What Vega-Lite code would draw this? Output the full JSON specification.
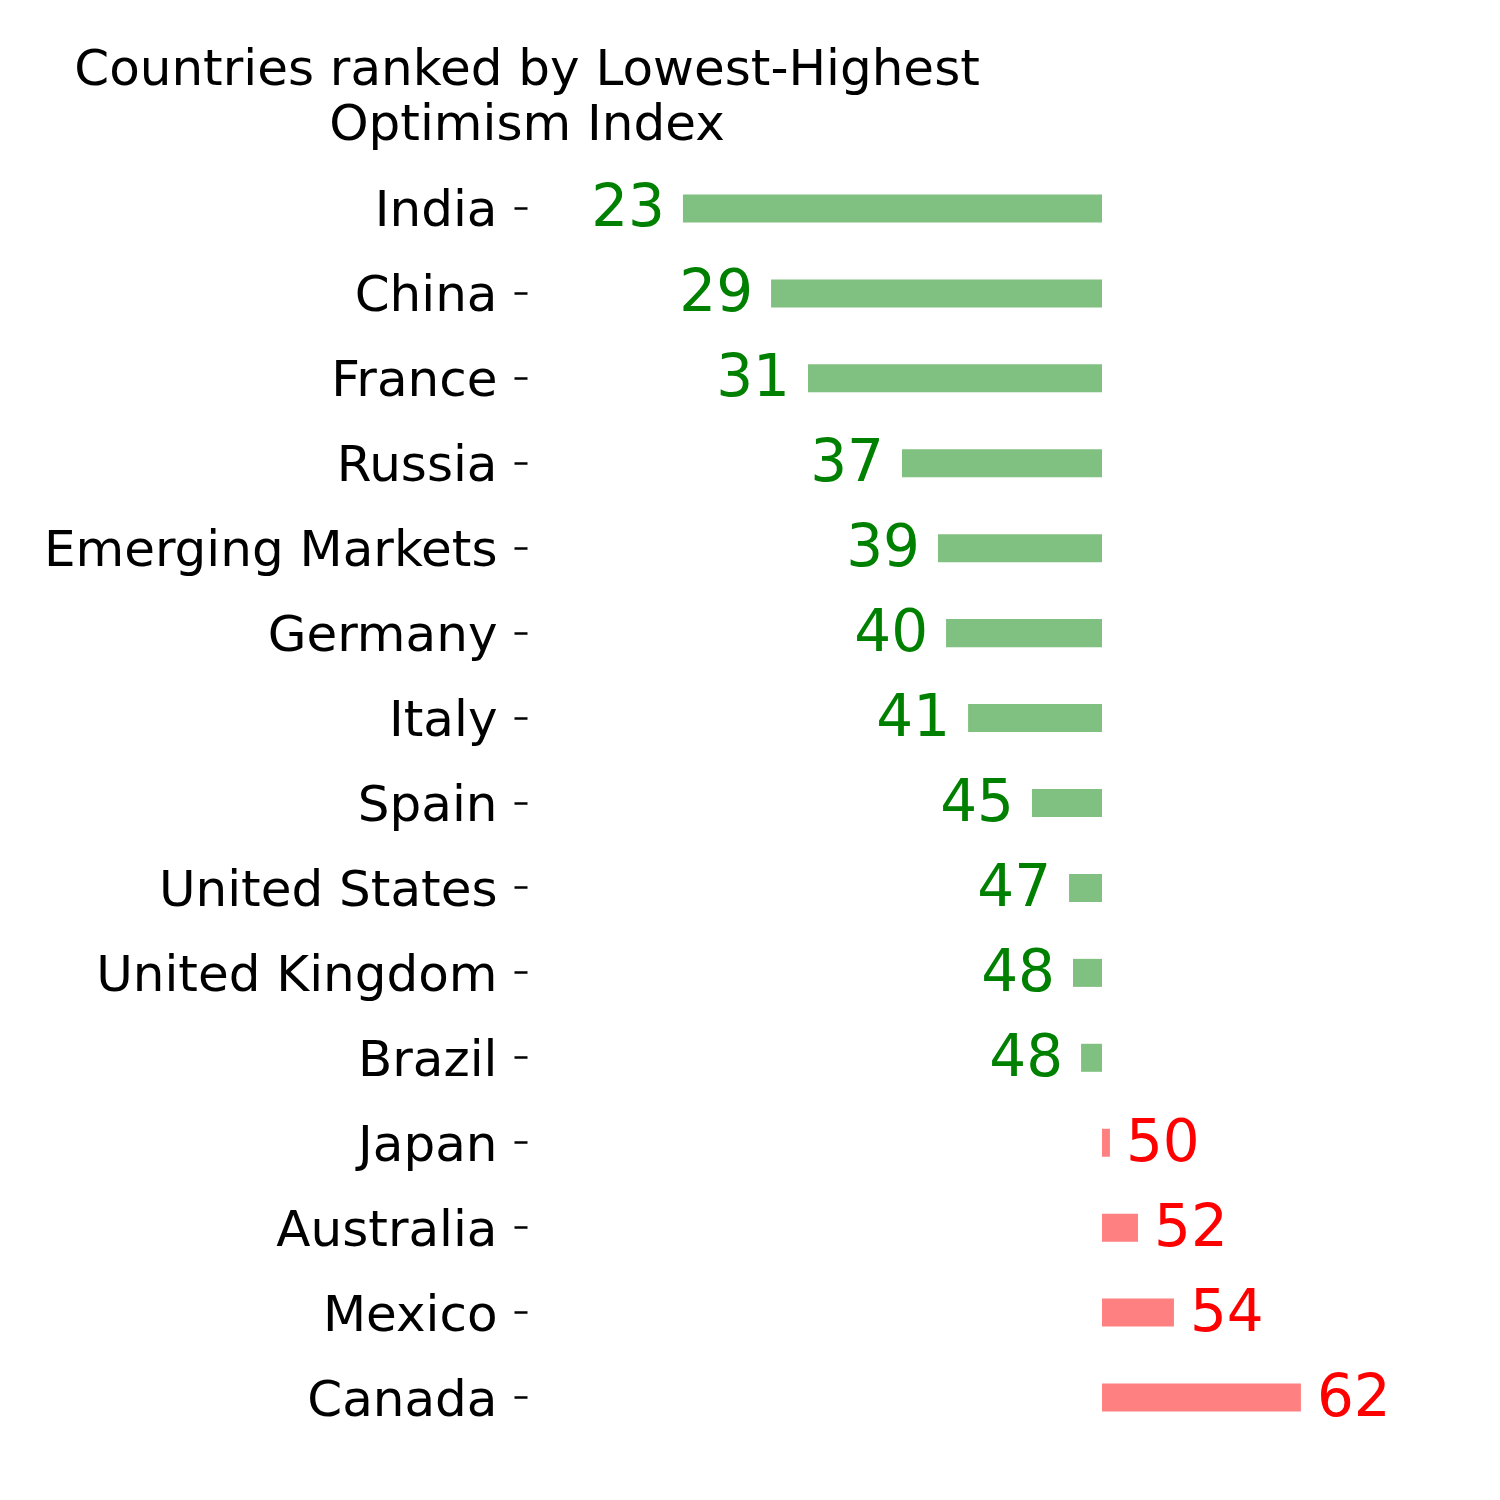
{
  "$schema": "https://vega.github.io/schema/vega-lite/v6.json",
  "autosize": "none",
  "width": 950,
  "height": 1274,
  "padding": {"left": 527, "top": 166, "right": 0, "bottom": 0},
  "background": "white",
  "config": {"view": {"stroke": null}, "font": "DejaVu Sans"},
  "title": {
    "text": ["Countries ranked by Lowest-Highest", "Optimism Index"],
    "font": "DejaVu Sans",
    "fontSize": 50,
    "fontWeight": "normal",
    "color": "black",
    "anchor": "middle",
    "frame": "group",
    "dx": -475,
    "offset": 16,
    "lineHeight": 55
  },
  "data": {
    "values": [
      {"country": "India", "value": 22.96},
      {"country": "China", "value": 28.52},
      {"country": "France", "value": 30.85},
      {"country": "Russia", "value": 36.78},
      {"country": "Emerging Markets", "value": 39.05},
      {"country": "Germany", "value": 39.56},
      {"country": "Italy", "value": 40.95},
      {"country": "Spain", "value": 44.98},
      {"country": "United States", "value": 47.32},
      {"country": "United Kingdom", "value": 47.57},
      {"country": "Brazil", "value": 48.08},
      {"country": "Japan", "value": 49.9},
      {"country": "Australia", "value": 51.67},
      {"country": "Mexico", "value": 53.94},
      {"country": "Canada", "value": 61.95}
    ]
  },
  "encoding": {
    "y": {
      "field": "country",
      "type": "nominal",
      "sort": {"field": "value", "order": "ascending"},
      "scale": {"paddingInner": 0.67, "paddingOuter": 0.335},
      "axis": {
        "title": null,
        "domain": false,
        "ticks": true,
        "tickSize": 13,
        "tickWidth": 2.5,
        "tickColor": "black",
        "labelFont": "DejaVu Sans",
        "labelFontSize": 50,
        "labelColor": "black",
        "labelPadding": 17,
        "labelBaseline": "alphabetic",
        "labelOffset": 18,
        "labelLimit": 600
      }
    }
  },
  "layer": [
    {
      "mark": {"type": "bar"},
      "encoding": {
        "x": {"field": "value", "type": "quantitative", "scale": {"domain": [13.12, 73.06], "nice": false, "zero": false}, "axis": null},
        "x2": {"datum": 49.4},
        "color": {
          "condition": {"test": "datum.value < 49.4", "value": "#80c080"},
          "value": "#ff8080"
        }
      }
    },
    {
      "transform": [{"filter": "datum.value < 49.4"}],
      "mark": {"type": "text", "align": "right", "baseline": "alphabetic", "dx": -18, "dy": 18, "fontSize": 58, "font": "DejaVu Sans", "color": "#008000"},
      "encoding": {
        "x": {"field": "value", "type": "quantitative"},
        "text": {"field": "value", "type": "quantitative", "format": ".0f"}
      }
    },
    {
      "transform": [{"filter": "datum.value >= 49.4"}],
      "mark": {"type": "text", "align": "left", "baseline": "alphabetic", "dx": 16, "dy": 18, "fontSize": 58, "font": "DejaVu Sans", "color": "#ff0000"},
      "encoding": {
        "x": {"field": "value", "type": "quantitative"},
        "text": {"field": "value", "type": "quantitative", "format": ".0f"}
      }
    }
  ]
}
